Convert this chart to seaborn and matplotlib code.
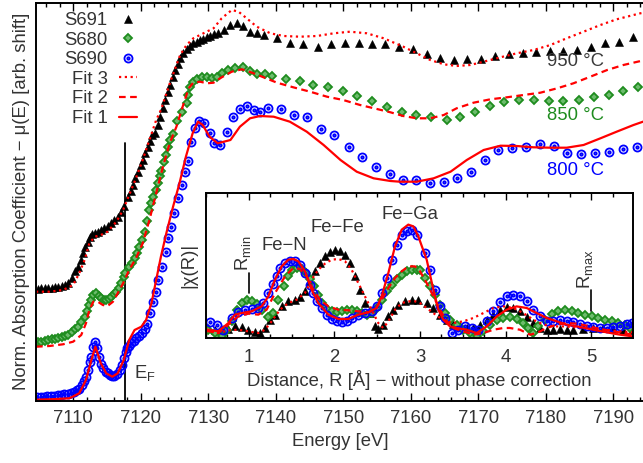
import matplotlib
matplotlib.use("Agg")
import matplotlib.pyplot as plt
from matplotlib.path import Path
from matplotlib.ticker import MultipleLocator, NullLocator
import seaborn as sns

# ---------------- main XANES data (energy in eV, shifted normalised mu) ----------------
e_s691 = [7104.8, 7105.3, 7105.8, 7106.3, 7106.8, 7107.3, 7107.8, 7108.3, 7108.8, 7109.3, 7109.8,
          7110.3, 7110.7, 7111.1, 7111.4, 7111.8, 7112.2, 7112.5, 7112.8, 7113.2, 7113.65, 7114.1,
          7114.6, 7115.1, 7115.6, 7116.1, 7116.6, 7117.1, 7117.5, 7118.1, 7118.5, 7118.8, 7119.2,
          7119.6, 7120.0, 7120.3, 7120.7, 7121.1, 7121.4, 7121.7, 7122.1, 7122.5, 7122.9, 7123.3,
          7123.6, 7124.0, 7124.4, 7124.75, 7125.1, 7125.5, 7125.85, 7126.3, 7126.8, 7127.3, 7127.8,
          7128.3, 7128.8, 7129.3, 7129.8, 7130.3, 7130.8, 7131.5, 7132.3, 7133.3, 7134.25, 7135.2,
          7136.2, 7137.2, 7138.2, 7140.2, 7142.1, 7144.1, 7146.25, 7148.2, 7150.2, 7152.3, 7154.25,
          7156.2, 7158.2, 7160.3, 7162.4, 7164.4, 7166.4, 7168.4, 7170.4, 7172.5, 7174.5, 7176.6,
          7178.6, 7180.7, 7182.6, 7184.7, 7186.7, 7188.8, 7190.9, 7192.9]
mu_s691 = [1.115, 1.117, 1.12, 1.122, 1.125, 1.128, 1.133, 1.14, 1.15, 1.17, 1.22,
           1.29, 1.333, 1.40, 1.467, 1.53, 1.583, 1.63, 1.66, 1.675, 1.683, 1.70,
           1.717, 1.74, 1.767, 1.80, 1.833, 1.88, 1.94, 2.033, 2.09, 2.15, 2.22,
           2.283, 2.35, 2.40, 2.47, 2.533, 2.59, 2.65, 2.667, 2.75, 2.833, 2.92,
           3.00, 3.08, 3.15, 3.23, 3.30, 3.36, 3.417, 3.47, 3.507, 3.54, 3.567,
           3.58, 3.60, 3.615, 3.633, 3.645, 3.657, 3.667, 3.70, 3.75, 3.767, 3.74,
           3.683, 3.667, 3.65, 3.617, 3.573, 3.56, 3.533, 3.56, 3.567, 3.573, 3.56,
           3.56, 3.533, 3.507, 3.457, 3.417, 3.40, 3.407, 3.407, 3.44, 3.457, 3.467,
           3.483, 3.493, 3.493, 3.50, 3.533, 3.567, 3.583, 3.627]

e_s680 = [7104.8, 7105.3, 7105.8, 7106.3, 7106.8, 7107.3, 7107.8, 7108.3, 7108.8, 7109.3, 7109.8,
          7110.3, 7110.7, 7111.2, 7111.7, 7112.1, 7112.4, 7112.7, 7113.0, 7113.4, 7113.8, 7114.1,
          7114.5, 7114.9, 7115.3, 7115.6, 7116.0, 7116.4, 7116.8, 7117.1, 7117.5, 7117.75, 7118.3,
          7118.7, 7119.1, 7119.5, 7119.8, 7120.2, 7120.6, 7121.0, 7121.3, 7121.6, 7121.9, 7122.2,
          7122.5, 7122.8, 7123.0, 7123.4, 7123.7, 7124.1, 7124.4, 7124.8, 7125.45, 7126.1, 7126.8,
          7127.0, 7127.3, 7127.8, 7128.3, 7129.1, 7129.8, 7130.5, 7131.3, 7132.0, 7133.0, 7134.0,
          7135.2, 7136.2, 7137.3, 7138.4, 7139.5, 7141.5, 7143.6, 7145.6, 7147.8, 7150.0, 7152.0,
          7154.25, 7156.5, 7158.7, 7160.8, 7163.0, 7165.3, 7167.3, 7169.45, 7171.7, 7173.85, 7176.1,
          7178.3, 7180.5, 7182.6, 7184.9, 7187.1, 7189.3, 7191.5, 7193.6]
mu_s680 = [0.58, 0.585, 0.59, 0.60, 0.61, 0.615, 0.622, 0.63, 0.64, 0.655, 0.68,
           0.71, 0.733, 0.78, 0.833, 0.89, 0.95, 1.00, 1.05, 1.067, 1.04, 1.017,
           1.005, 1.00, 1.015, 1.033, 1.06, 1.083, 1.12, 1.167, 1.23, 1.267, 1.333,
           1.375, 1.417, 1.47, 1.533, 1.60, 1.683, 1.79, 1.90, 1.97, 2.033, 2.10,
           2.167, 2.24, 2.293, 2.383, 2.45, 2.533, 2.60, 2.66, 2.793, 2.883, 2.967,
           3.05, 3.127, 3.183, 3.207, 3.227, 3.227, 3.217, 3.233, 3.273, 3.30, 3.317,
           3.327, 3.293, 3.26, 3.26, 3.24, 3.21, 3.19, 3.15, 3.127, 3.093, 3.04,
           2.99, 2.933, 2.883, 2.85, 2.833, 2.80, 2.833, 2.883, 2.94, 2.983, 3.00,
           3.00, 2.993, 2.993, 3.00, 3.027, 3.05, 3.093, 3.127]

e_s690 = [7104.7, 7105.2, 7105.7, 7106.2, 7106.7, 7107.2, 7107.7, 7108.2, 7108.7, 7109.2, 7109.7,
          7110.2, 7110.6, 7110.9, 7111.3, 7111.6, 7111.9, 7112.2, 7112.5, 7112.7, 7113.0, 7113.3,
          7113.6, 7113.9, 7114.2, 7114.4, 7114.8, 7115.1, 7115.5, 7115.8, 7116.1, 7116.5, 7116.9,
          7117.2, 7117.5, 7117.8, 7118.0, 7118.3, 7118.6, 7119.0, 7119.3, 7119.7, 7120.2, 7120.6,
          7120.9, 7121.4, 7121.8, 7122.2, 7122.6, 7123.1, 7123.7, 7124.1, 7124.5, 7125.0, 7125.5,
          7126.1, 7126.6, 7127.0, 7127.5, 7128.0, 7128.7, 7129.45, 7130.2, 7130.9, 7131.7, 7132.8,
          7133.75, 7134.7, 7135.8, 7136.8, 7137.7, 7138.8, 7140.8, 7142.7, 7144.7, 7146.7, 7148.7,
          7150.8, 7152.8, 7154.9, 7156.9, 7158.8, 7160.8, 7162.9, 7164.9, 7166.9, 7169.0, 7171.0,
          7173.0, 7175.0, 7177.1, 7179.2, 7181.2, 7183.2, 7185.2, 7187.3, 7189.4, 7191.4, 7193.5]
mu_s690 = [0.03, 0.032, 0.034, 0.036, 0.04, 0.043, 0.047, 0.05, 0.057, 0.064, 0.073,
           0.085, 0.10, 0.113, 0.15, 0.19, 0.227, 0.30, 0.38, 0.433, 0.53, 0.577,
           0.52, 0.427, 0.36, 0.317, 0.28, 0.267, 0.25, 0.24, 0.24, 0.26, 0.30,
           0.35, 0.417, 0.48, 0.517, 0.545, 0.567, 0.59, 0.617, 0.64, 0.667, 0.71,
           0.76, 0.867, 0.983, 1.083, 1.20, 1.333, 1.483, 1.617, 1.733, 1.867, 2.017,
           2.15, 2.283, 2.393, 2.583, 2.717, 2.793, 2.767, 2.667, 2.567, 2.55, 2.683,
           2.827, 2.907, 2.94, 2.90, 2.883, 2.917, 2.907, 2.85, 2.827, 2.707, 2.65,
           2.533, 2.433, 2.327, 2.26, 2.20, 2.20, 2.173, 2.183, 2.223, 2.283, 2.40,
           2.50, 2.517, 2.533, 2.56, 2.54, 2.473, 2.46, 2.473, 2.483, 2.507, 2.533]

e_fit3 = [7104.5, 7106.5, 7108.5, 7110.0, 7110.9, 7111.7, 7112.4, 7113.2, 7114.1, 7115.1, 7116.4,
          7117.4, 7118.3, 7119.3, 7120.3, 7121.3, 7122.3, 7123.0, 7124.4, 7125.85, 7126.8, 7127.8,
          7129.3, 7130.8, 7132.0, 7133.5, 7134.5, 7135.7, 7137.2, 7139.2, 7141.2, 7143.6, 7146.1,
          7148.6, 7151.0, 7153.5, 7156.0, 7158.9, 7160.9, 7162.9, 7164.9, 7166.8, 7168.8, 7170.8,
          7173.3, 7175.7, 7178.2, 7180.7, 7183.1, 7185.6, 7188.1, 7190.5, 7194.0, 7194.7]
mu_fit3 = [1.083, 1.083, 1.10, 1.15, 1.267, 1.40, 1.567, 1.633, 1.65, 1.683, 1.783,
           1.90, 2.05, 2.217, 2.40, 2.60, 2.80, 2.90, 3.183, 3.45, 3.55, 3.617,
           3.667, 3.717, 3.817, 3.90, 3.883, 3.817, 3.733, 3.667, 3.64, 3.633, 3.64,
           3.667, 3.683, 3.667, 3.617, 3.533, 3.467, 3.40, 3.357, 3.34, 3.35, 3.383,
           3.427, 3.467, 3.50, 3.55, 3.617, 3.683, 3.75, 3.807, 3.867, 3.875]

e_fit2 = [7104.5, 7106.5, 7108.5, 7110.0, 7111.2, 7111.9, 7112.4, 7113.0, 7113.65, 7114.4, 7115.1,
          7115.9, 7116.6, 7117.4, 7118.3, 7119.3, 7120.3, 7121.3, 7122.3, 7123.3, 7124.3, 7125.3,
          7126.3, 7127.1, 7127.8, 7128.8, 7129.8, 7130.8, 7132.0, 7133.5, 7135.0, 7136.5, 7138.2,
          7140.2, 7142.6, 7145.1, 7147.6, 7150.0, 7152.5, 7155.0, 7157.0, 7158.9, 7160.9, 7162.9,
          7164.9, 7166.8, 7169.3, 7171.8, 7174.25, 7176.7, 7179.2, 7181.7, 7184.1, 7186.6, 7189.1,
          7191.5, 7194.7]
mu_fit2 = [0.533, 0.54, 0.557, 0.583, 0.65, 0.767, 0.90, 0.983, 0.983, 0.95, 0.94,
           0.983, 1.067, 1.167, 1.30, 1.417, 1.567, 1.80, 2.067, 2.333, 2.567, 2.733,
           2.95, 3.117, 3.173, 3.183, 3.167, 3.173, 3.227, 3.283, 3.307, 3.273, 3.227,
           3.173, 3.127, 3.083, 3.033, 3.00, 2.95, 2.91, 2.877, 2.84, 2.817, 2.817,
           2.85, 2.917, 2.973, 3.007, 3.027, 3.05, 3.073, 3.117, 3.167, 3.233, 3.30,
           3.35, 3.40]

e_fit1 = [7104.5, 7107.0, 7109.45, 7110.9, 7111.9, 7112.7, 7113.3, 7114.1, 7114.9, 7115.8, 7116.6,
          7117.5, 7118.3, 7119.1, 7120.1, 7120.8, 7121.6, 7122.3, 7123.0, 7123.8, 7124.8, 7125.75,
          7126.7, 7127.7, 7128.5, 7129.2, 7130.2, 7131.4, 7133.3, 7134.7, 7136.2, 7137.7, 7139.7,
          7142.1, 7144.6, 7147.1, 7149.6, 7152.0, 7154.5, 7157.0, 7158.4, 7160.9, 7163.4, 7165.9,
          7168.3, 7170.8, 7173.3, 7175.7, 7178.2, 7180.7, 7183.1, 7185.6, 7188.1, 7190.5, 7193.0,
          7194.7]
mu_fit1 = [0.003, 0.008, 0.017, 0.067, 0.20, 0.40, 0.533, 0.367, 0.267, 0.233, 0.267,
           0.40, 0.60, 0.70, 0.733, 0.80, 0.967, 1.20, 1.433, 1.667, 1.933, 2.167,
           2.433, 2.667, 2.783, 2.75, 2.633, 2.567, 2.60, 2.733, 2.817, 2.84, 2.833,
           2.783, 2.683, 2.55, 2.40, 2.283, 2.217, 2.19, 2.183, 2.183, 2.217, 2.283,
           2.40, 2.50, 2.543, 2.54, 2.527, 2.523, 2.523, 2.55, 2.617, 2.683, 2.75,
           2.79]

# ---------------- inset |chi(R)| data (R in Angstrom) ----------------
r_s691 = [0.527, 0.605, 0.683, 0.761, 0.838, 0.916, 0.994, 1.072, 1.13, 1.189, 1.247, 1.306, 1.384,
          1.462, 1.539, 1.598, 1.656, 1.715, 1.773, 1.831, 1.89, 1.948, 2.007, 2.065, 2.124, 2.182,
          2.24, 2.299, 2.357, 2.416, 2.474, 2.513, 2.571, 2.63, 2.688, 2.747, 2.824, 2.902, 2.98,
          3.078, 3.156, 3.234, 3.312, 3.389, 3.467, 3.545, 3.623, 3.701, 3.779, 3.857, 3.935, 4.012,
          4.09, 4.168, 4.246, 4.324, 4.402, 4.48, 4.558, 4.636, 4.713, 4.791, 4.908, 5.025, 5.142,
          5.259, 5.375, 5.473]
chi_s691 = [0.069, 0.057, 0.046, 0.062, 0.08, 0.076, 0.057, 0.039, 0.034, 0.069, 0.126, 0.161, 0.218,
            0.253, 0.264, 0.283, 0.322, 0.391, 0.46, 0.517, 0.563, 0.591, 0.605, 0.598, 0.575, 0.517,
            0.425, 0.333, 0.241, 0.172, 0.08, 0.062, 0.092, 0.149, 0.195, 0.23, 0.253, 0.264, 0.26,
            0.241, 0.207, 0.161, 0.126, 0.099, 0.08, 0.069, 0.069, 0.092, 0.126, 0.161, 0.195, 0.214,
            0.207, 0.184, 0.145, 0.103, 0.069, 0.057, 0.057, 0.062, 0.057, 0.057, 0.062, 0.069, 0.069,
            0.062, 0.057, 0.057]

r_s680 = [0.527, 0.605, 0.683, 0.741, 0.80, 0.858, 0.916, 0.975, 1.033, 1.092, 1.15, 1.228, 1.286,
          1.345, 1.411, 1.462, 1.508, 1.559, 1.617, 1.668, 1.715, 1.765, 1.812, 1.859, 1.909, 1.968,
          2.026, 2.085, 2.143, 2.201, 2.26, 2.318, 2.377, 2.435, 2.493, 2.552, 2.61, 2.669, 2.727,
          2.786, 2.844, 2.902, 2.961, 3.0, 3.058, 3.117, 3.175, 3.234, 3.292, 3.35, 3.428, 3.506,
          3.584, 3.662, 3.74, 3.818, 3.896, 3.974, 4.051, 4.129, 4.207, 4.266, 4.324, 4.382, 4.46,
          4.538, 4.616, 4.694, 4.772, 4.85, 4.928, 5.005, 5.083, 5.161, 5.239, 5.317, 5.395, 5.453]
chi_s680 = [0.057, 0.034, 0.016, 0.057, 0.115, 0.195, 0.241, 0.26, 0.253, 0.237, 0.195, 0.145, 0.172,
            0.264, 0.356, 0.425, 0.467, 0.483, 0.476, 0.448, 0.407, 0.356, 0.299, 0.241, 0.20, 0.184,
            0.177, 0.184, 0.191, 0.191, 0.184, 0.172, 0.161, 0.172, 0.207, 0.264, 0.322, 0.368, 0.407,
            0.437, 0.46, 0.471, 0.467, 0.471, 0.414, 0.356, 0.299, 0.23, 0.172, 0.126, 0.092, 0.057,
            0.034, 0.011, 0.046, 0.092, 0.126, 0.138, 0.145, 0.131, 0.103, 0.069, 0.034, 0.08, 0.126,
            0.168, 0.184, 0.191, 0.184, 0.172, 0.161, 0.149, 0.138, 0.126, 0.115, 0.103, 0.092, 0.069]

r_s690 = [0.546, 0.624, 0.702, 0.80, 0.877, 0.955, 1.033, 1.111, 1.17, 1.228, 1.286, 1.325, 1.364,
          1.423, 1.481, 1.539, 1.598, 1.656, 1.715, 1.754, 1.792, 1.851, 1.909, 1.968, 2.026, 2.085,
          2.143, 2.201, 2.279, 2.357, 2.435, 2.493, 2.552, 2.61, 2.669, 2.727, 2.786, 2.844, 2.902,
          2.961, 3.058, 3.117, 3.175, 3.234, 3.292, 3.37, 3.448, 3.526, 3.604, 3.681, 3.779, 3.857,
          3.935, 4.012, 4.09, 4.168, 4.246, 4.324, 4.402, 4.48, 4.558, 4.636, 4.713, 4.791, 4.869,
          4.947, 5.025, 5.103, 5.181, 5.259, 5.336, 5.414, 5.473]
chi_s690 = [0.108, 0.092, 0.057, 0.138, 0.177, 0.191, 0.20, 0.207, 0.241, 0.31, 0.375, 0.425, 0.483,
            0.517, 0.533, 0.529, 0.506, 0.448, 0.368, 0.31, 0.253, 0.207, 0.161, 0.131, 0.115, 0.11,
            0.115, 0.138, 0.161, 0.172, 0.184, 0.218, 0.31, 0.414, 0.54, 0.644, 0.713, 0.736, 0.743,
            0.713, 0.586, 0.471, 0.333, 0.218, 0.138, 0.034, 0.057, 0.08, 0.069, 0.057, 0.115, 0.184,
            0.246, 0.287, 0.299, 0.292, 0.253, 0.195, 0.149, 0.115, 0.115, 0.126, 0.115, 0.108, 0.099,
            0.085, 0.076, 0.069, 0.069, 0.074, 0.085, 0.097, 0.103]

r_fit3 = [0.5, 0.644, 0.761, 0.877, 0.994, 1.111, 1.189, 1.267, 1.364, 1.462, 1.559, 1.656, 1.734,
          1.812, 1.89, 1.968, 2.046, 2.124, 2.201, 2.279, 2.357, 2.435, 2.513, 2.571, 2.63, 2.708,
          2.786, 2.863, 2.941, 3.0, 3.078, 3.156, 3.234, 3.312, 3.389, 3.506, 3.623, 3.74, 3.857,
          3.974, 4.09, 4.207, 4.324, 4.441, 4.558, 4.675, 4.791, 4.947, 5.142, 5.336, 5.488]
chi_fit3 = [0.05, 0.034, 0.053, 0.057, 0.046, 0.034, 0.057, 0.115, 0.195, 0.241, 0.264, 0.31, 0.402,
            0.471, 0.513, 0.54, 0.545, 0.529, 0.471, 0.379, 0.287, 0.195, 0.103, 0.069, 0.115, 0.195,
            0.241, 0.253, 0.253, 0.241, 0.207, 0.172, 0.138, 0.115, 0.103, 0.115, 0.138, 0.172, 0.207,
            0.218, 0.207, 0.172, 0.126, 0.092, 0.08, 0.08, 0.076, 0.069, 0.057, 0.046, 0.039]

r_fit2 = [0.5, 0.644, 0.761, 0.877, 0.994, 1.111, 1.208, 1.306, 1.423, 1.52, 1.598, 1.676, 1.754,
          1.831, 1.929, 2.046, 2.162, 2.279, 2.396, 2.474, 2.552, 2.63, 2.708, 2.786, 2.863, 2.941,
          3.0, 3.078, 3.156, 3.234, 3.312, 3.389, 3.506, 3.623, 3.74, 3.857, 3.974, 4.051, 4.168,
          4.285, 4.363, 4.48, 4.597, 4.713, 4.83, 4.947, 5.103, 5.259, 5.488]
chi_fit2 = [0.05, 0.034, 0.092, 0.149, 0.168, 0.161, 0.195, 0.31, 0.425, 0.483, 0.476, 0.425, 0.333,
            0.264, 0.218, 0.195, 0.191, 0.184, 0.177, 0.195, 0.264, 0.345, 0.414, 0.46, 0.494, 0.494,
            0.46, 0.379, 0.287, 0.195, 0.115, 0.069, 0.046, 0.023, 0.034, 0.057, 0.069, 0.069, 0.057,
            0.023, 0.034, 0.069, 0.092, 0.103, 0.099, 0.085, 0.062, 0.046, 0.023]

r_fit1 = [0.5, 0.527, 0.644, 0.761, 0.838, 0.916, 1.033, 1.15, 1.228, 1.306, 1.384, 1.462, 1.52,
          1.578, 1.656, 1.734, 1.812, 1.929, 2.046, 2.162, 2.279, 2.396, 2.493, 2.552, 2.63, 2.708,
          2.786, 2.863, 2.922, 2.98, 3.078, 3.156, 3.214, 3.273, 3.35, 3.428, 3.545, 3.662, 3.779,
          3.896, 4.012, 4.129, 4.246, 4.363, 4.48, 4.597, 4.713, 4.869, 5.025, 5.181, 5.336, 5.488]
chi_fit1 = [0.06, 0.057, 0.046, 0.103, 0.161, 0.172, 0.184, 0.218, 0.287, 0.402, 0.494, 0.54, 0.545,
            0.529, 0.46, 0.333, 0.241, 0.161, 0.131, 0.131, 0.161, 0.177, 0.207, 0.287, 0.448, 0.632,
            0.747, 0.782, 0.77, 0.701, 0.54, 0.333, 0.195, 0.126, 0.08, 0.069, 0.057, 0.034, 0.08,
            0.149, 0.195, 0.218, 0.207, 0.172, 0.138, 0.115, 0.092, 0.076, 0.057, 0.039, 0.023, 0.011]

series_labels = ["S691", "S680", "S690", "Fit 3", "Fit 2", "Fit 1"]
temp_labels = ["950 °C", "850 °C", "800 °C"]
temp_pos = [(7180.2, 3.38), (7180.2, 2.85), (7180.2, 2.30)]
peak_labels = ["Fe\u2212N", "Fe\u2212Fe", "Fe\u2212Ga"]
peak_pos = [(1.42, 0.64), (2.03, 0.76), (2.88, 0.855)]
e_fermi = 7117.75
r_min, r_max = 1.0, 5.0

# ---------------- style ----------------
sns.set_theme(style="ticks")
plt.rcParams["font.family"] = ["Liberation Sans", "DejaVu Sans"]
plt.rcParams["mathtext.fontset"] = "custom"
plt.rcParams["mathtext.rm"] = "Liberation Sans"
plt.rcParams["mathtext.it"] = "Liberation Sans:italic"
plt.rcParams["mathtext.sf"] = "Liberation Sans"
plt.rcParams["mathtext.default"] = "regular"

FS = 13.3
TXT = "#333333"
RED = "#ff0000"
GREEN = "#1e8c1e"
BLUE = "#0000ff"

uc = Path.unit_circle()
circ_dot = Path.make_compound_path(uc, Path(uc.vertices * 0.3, uc.codes))

sty_s691 = dict(marker="^", markersize=5.8, markerfacecolor="black", markeredgecolor="black",
                markeredgewidth=0.4, color="black", linestyle="")
sty_s680 = dict(marker="D", markersize=3.6, markerfacecolor="#6dbb6d", markeredgecolor=GREEN,
                markeredgewidth=1.3, color=GREEN, linestyle="")
sty_s690 = dict(marker=circ_dot, markersize=5.8, markerfacecolor="none", markeredgecolor=BLUE,
                markeredgewidth=1.3, color=BLUE, linestyle="")
sty_fit3 = dict(color=RED, linestyle=(0, (1.0, 1.6)), linewidth=1.6)
sty_fit2 = dict(color=RED, linestyle=(0, (3.0, 2.0)), linewidth=1.6)
sty_fit1 = dict(color=RED, linestyle="-", linewidth=1.6)

fig = plt.figure(figsize=(6.43, 4.63), dpi=100)
ax = fig.add_axes([36 / 643, (463 - 400.5) / 463, 609 / 643, 397.5 / 463])


def draw(axis, x, y, sty, label):
    sns.lineplot(x=x, y=y, ax=axis, estimator=None, sort=False, legend=False, label=label, **sty)
    return axis.lines[-1]


handles = [
    draw(ax, e_s691, mu_s691, sty_s691, series_labels[0]),
    draw(ax, e_s680, mu_s680, sty_s680, series_labels[1]),
    draw(ax, e_s690, mu_s690, sty_s690, series_labels[2]),
    draw(ax, e_fit3, mu_fit3, sty_fit3, series_labels[3]),
    draw(ax, e_fit2, mu_fit2, sty_fit2, series_labels[4]),
    draw(ax, e_fit1, mu_fit1, sty_fit1, series_labels[5]),
]
ax.plot([e_fermi, e_fermi], [0, 2.57], color="black", linewidth=1.3, zorder=1)
ax.text(e_fermi + 1.3, 0.27, r"E$_\mathrm{F}$", fontsize=FS, color=TXT, ha="left", va="center")

for lab, (tx, ty), col in zip(temp_labels, temp_pos, ["#3a3a3a", GREEN, BLUE]):
    ax.text(tx, ty, lab, fontsize=FS, color=col, ha="left", va="center")

ax.set_xlim(7104.5, 7194.7)
ax.set_ylim(-0.005, 3.97)
ax.xaxis.set_major_locator(MultipleLocator(10))
ax.xaxis.set_minor_locator(MultipleLocator(2))
ax.yaxis.set_major_locator(NullLocator())
ax.tick_params(axis="x", which="both", direction="in", top=True, bottom=True, colors="black",
               labelcolor=TXT, labelsize=FS, pad=7)
ax.tick_params(axis="x", which="major", length=6, width=1.0)
ax.tick_params(axis="x", which="minor", length=3, width=1.0)
ax.tick_params(axis="y", left=False, right=False, labelleft=False)
for side in ["left", "bottom", "top"]:
    ax.spines[side].set_linewidth(1.4)
    ax.spines[side].set_color("black")
ax.spines["right"].set_visible(False)
ax.set_xlabel("Energy [eV]", fontsize=FS, color=TXT, labelpad=4)
ax.set_ylabel("Norm. Absorption Coefficient \u2212 \u03bc(E) [arb. shift]", fontsize=FS, color=TXT,
              labelpad=4)

ax.legend(handles=handles, loc="upper right", bbox_to_anchor=(0.166, 0.977), frameon=False,
          markerfirst=False, fontsize=FS, handlelength=1.0, handletextpad=0.6,
          labelspacing=0.14, borderpad=0.0, borderaxespad=0.0, labelcolor=TXT)

# ---------------- inset ----------------
axi = fig.add_axes([206 / 643, (463 - 338) / 463, 427 / 643, 145 / 463])
axi.set_facecolor("white")
draw(axi, r_s691, chi_s691, sty_s691, "_s691")
draw(axi, r_s680, chi_s680, sty_s680, "_s680")
draw(axi, r_s690, chi_s690, sty_s690, "_s690")
draw(axi, r_fit3, chi_fit3, sty_fit3, "_fit3")
draw(axi, r_fit2, chi_fit2, sty_fit2, "_fit2")
draw(axi, r_fit1, chi_fit1, sty_fit1, "_fit1")
axi.set_xlim(0.5, 5.488)
axi.set_ylim(0, 1.0)
axi.xaxis.set_major_locator(MultipleLocator(1))
axi.xaxis.set_minor_locator(MultipleLocator(0.25))
axi.yaxis.set_major_locator(NullLocator())
axi.tick_params(axis="x", which="both", direction="in", top=True, bottom=True, colors="black",
                labelcolor=TXT, labelsize=FS, pad=8)
axi.tick_params(axis="x", which="major", length=5, width=1.0)
axi.tick_params(axis="x", which="minor", length=3, width=1.0)
axi.tick_params(axis="y", left=False, right=False, labelleft=False)
for side in axi.spines:
    axi.spines[side].set_linewidth(1.4)
    axi.spines[side].set_color("black")
axi.set_xlabel("Distance, R [\u00c5] \u2212 without phase correction", fontsize=FS, color=TXT,
               labelpad=3)
axi.text(-0.041, 0.5, "|\u03c7(R)|", transform=axi.transAxes, rotation=90, fontsize=FS, color=TXT,
         ha="center", va="center")

for lab, (tx, ty) in zip(peak_labels, peak_pos):
    axi.text(tx, ty, lab, fontsize=FS, color=TXT, ha="center", va="center")

axi.plot([r_min, r_min], [0.31, 0.45], color="black", linewidth=1.2)
axi.text(r_min - 0.07, 0.46, r"R$_\mathrm{min}$", rotation=90, fontsize=FS, color=TXT,
         ha="center", va="bottom")
axi.plot([r_max, r_max], [0.186, 0.33], color="black", linewidth=1.2)
axi.text(r_max - 0.07, 0.34, r"R$_\mathrm{max}$", rotation=90, fontsize=FS, color=TXT,
         ha="center", va="bottom")

fig.savefig("out.png", dpi=100)
